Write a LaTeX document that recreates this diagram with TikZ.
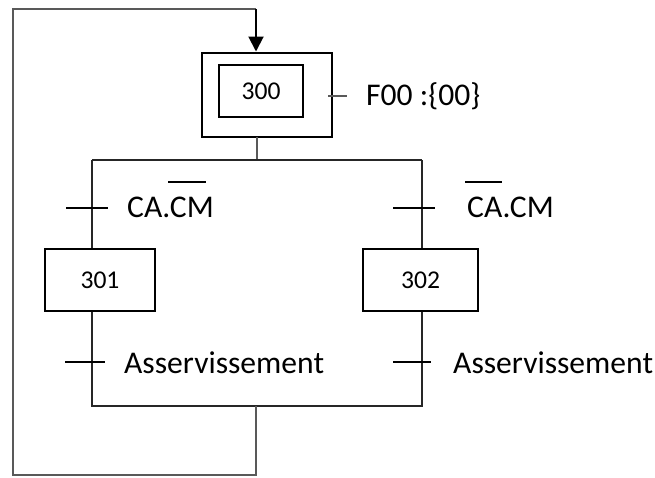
\documentclass[tikz,border=0pt]{standalone}
\usepackage{fontspec}
\setmainfont{Carlito}
\usetikzlibrary{arrows.meta}

\tikzset{
  wire/.style={line width=2pt, draw=black!85},
  loopwire/.style={line width=2pt, draw=black!65},
  stepbox/.style={draw=black, line width=2pt, minimum width=#1, inner sep=0pt, font=\fontsize{25.6}{30}\selectfont},
  lbl/.style={anchor=west, inner sep=0pt, font=\fontsize{31.6}{36}\selectfont},
  bar/.style={line width=2pt, draw=black},
}

\begin{document}
\begin{tikzpicture}[x=1pt, y=-1pt]
  \useasboundingbox (0,0) rectangle (655,477);

  % initial step 300 (double box) with its action
  \node[stepbox=130pt, minimum height=84pt] (s300o) at (267,94.5) {};
  \node[stepbox=84pt, minimum height=52pt] (s300) at (261,91) {300};
  \draw[loopwire] (328,96) -- (347,96);
  \node[lbl] (act) at (366,96) {F00 :\{00\}};

  % steps 301 and 302
  \node[stepbox=110pt, minimum height=62pt] (s301) at (100,280) {301};
  \node[stepbox=115pt, minimum height=62pt] (s302) at (420.5,280) {302};

  % divergence / convergence points
  \coordinate (dtop) at (257,136.5);
  \coordinate (dv)   at (257,160);
  \coordinate (dl)   at (92,160);
  \coordinate (dr)   at (422,160);
  \coordinate (cl)   at (92,406);
  \coordinate (cr)   at (422,406);
  \coordinate (cv)   at (256,406);
  \coordinate (lb1)  at (256,475);
  \coordinate (lb2)  at (13,475);
  \coordinate (lt1)  at (13,9);
  \coordinate (lt2)  at (256,9);

  % branch from step 300
  \draw[loopwire] (dtop) -- (dv);
  \draw[wire] (dl) -- (dr);
  \draw[wire] (dl) -- (dl |- s301.north);
  \draw[wire] (dr) -- (dr |- s302.north);

  % transitions above 301 / 302
  \draw[bar] (66,208) -- (108,208);
  \draw[bar] (393,208) -- (435,208);
  \node[lbl] (t1) at (127,207) {CA.CM};
  \node[lbl] (t2) at (467,207) {CA.CM};
  \draw[bar] (168,182) -- (206,182);
  \draw[bar] (465,182) -- (502,182);

  % lines down to convergence
  \draw[wire] (dl |- s301.south) -- (cl) -- (cr) -- (dr |- s302.south);

  % transitions below 301 / 302
  \draw[bar] (65,362) -- (105,362);
  \draw[bar] (393,362) -- (431,362);
  \node[lbl] (a1) at (124,363) {Asservissement};
  \node[lbl] (a2) at (453,363) {Asservissement};

  % return loop to step 300
  \draw[loopwire] (cv) -- (lb1) -- (lb2) -- (lt1) -- (lt2);
  \draw[wire, draw=black, -{Triangle[length=15pt, width=15pt]}] (lt2) -- (lt2 |- s300o.north);
\end{tikzpicture}
\end{document}
